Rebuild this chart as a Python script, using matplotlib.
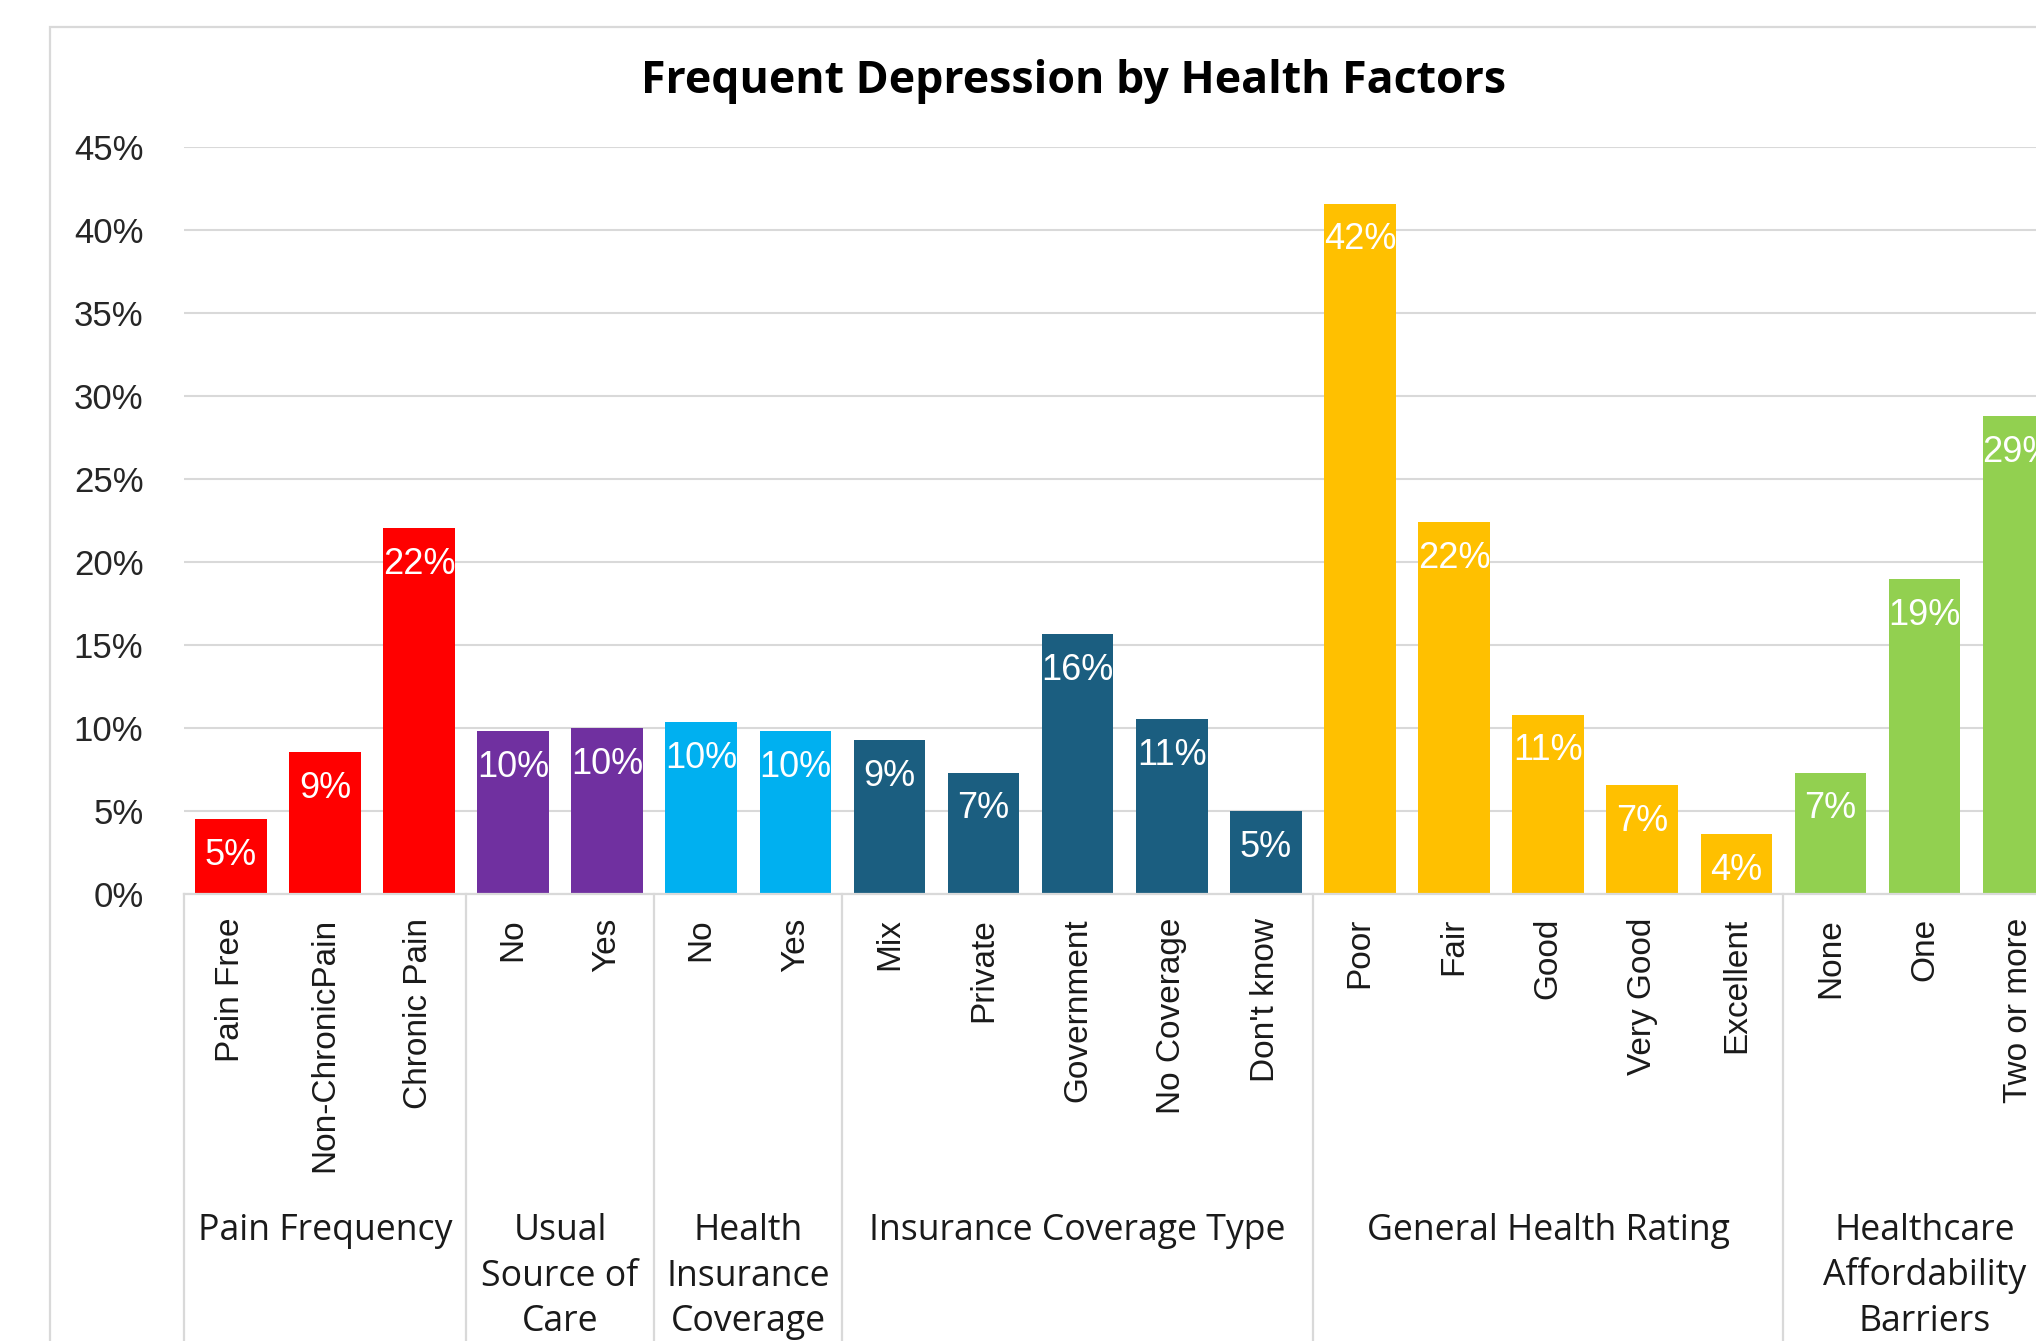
import matplotlib
matplotlib.use("Agg")
import matplotlib.pyplot as plt
from matplotlib.patches import Rectangle
from matplotlib.ticker import FuncFormatter, MultipleLocator
import matplotlib.transforms as mtransforms

# ---- data -------------------------------------------------------------
groups = [
    "Pain Frequency",
    "Usual\nSource of\nCare",
    "Health\nInsurance\nCoverage",
    "Insurance Coverage Type",
    "General Health Rating",
    "Healthcare\nAffordability\nBarriers",
]
group_sizes = [3, 2, 2, 5, 5, 3]
categories = [
    "Pain Free", "Non-ChronicPain", "Chronic Pain",
    "No", "Yes",
    "No", "Yes",
    "Mix", "Private", "Government", "No Coverage", "Don't know",
    "Poor", "Fair", "Good", "Very Good", "Excellent",
    "None", "One", "Two or more",
]
values = [
    4.52, 8.57, 22.07,
    9.84, 10.0,
    10.38, 9.84,
    9.3, 7.33, 15.66, 10.55, 5.0,
    41.6, 22.4, 10.82, 6.57, 3.61,
    7.33, 18.98, 28.8,
]
group_colors = ["#FF0000", "#7030A0", "#00B0F0", "#1B5E80", "#FFC000", "#92D050"]
title = "Frequent Depression by Health Factors"

# ---- figure -----------------------------------------------------------
W, H, DPI = 2036, 1341, 100
fig = plt.figure(figsize=(W / DPI, H / DPI), dpi=DPI)
fig.patch.set_facecolor("white")

# chart frame
fig.add_artist(Rectangle((50 / W, -0.1), 1.2, 1.1 - 26.7 / H,
                         transform=fig.transFigure, fill=False,
                         edgecolor="#D9D9D9", linewidth=1.6, clip_on=False))

left_px, right_px = 183.7, 183.7 + 20 * 94.1
top_px, bottom_px = 147.3, 894.3
ax = fig.add_axes([left_px / W, 1 - bottom_px / H,
                   (right_px - left_px) / W, (bottom_px - top_px) / H])
ax.set_facecolor("none")

colors = []
for c, n in zip(group_colors, group_sizes):
    colors += [c] * n

x = list(range(len(categories)))
bars = ax.bar(x, values, width=0.76, color=colors, zorder=3)

ax.set_xlim(-0.5, len(categories) - 0.5)
ax.set_ylim(0, 45)
ax.yaxis.set_major_locator(MultipleLocator(5))
ax.yaxis.set_major_formatter(FuncFormatter(lambda v, p: f"{v:.0f}%"))
ax.grid(axis="y", color="#D9D9D9", linewidth=1.5, zorder=0)
ax.set_axisbelow(True)
for s in ["top", "right", "left"]:
    ax.spines[s].set_visible(False)
ax.spines["bottom"].set_color("#D9D9D9")
ax.spines["bottom"].set_linewidth(1.6)
ax.spines["bottom"].set_zorder(4)

ax.tick_params(axis="y", length=0, pad=29, labelsize=25, labelcolor="#262626")
for lab in ax.get_yticklabels():
    lab.set_fontfamily("Liberation Sans")

ax.set_xticks(x)
ax.set_xticklabels(categories, rotation=90, fontsize=24, color="#1A1A1A",
                   fontfamily="Liberation Sans", va="top", ha="center")
ax.tick_params(axis="x", length=0, pad=17)

# value labels inside bar tops
for rect, v in zip(bars, values):
    ax.annotate(f"{v:.0f}%", (rect.get_x() + rect.get_width() / 2, v),
                xytext=(0, -26), textcoords="offset points",
                ha="center", va="center", color="white", fontsize=26,
                fontfamily="Liberation Sans", zorder=5, clip_on=False)

# group separators and group names
trans = mtransforms.blended_transform_factory(ax.transData, ax.transAxes)
start = 0
px_per_axes = (bottom_px - top_px)
bounds = [-0.5]
for name, n in zip(groups, group_sizes):
    center = start + (n - 1) / 2
    for i, line in enumerate(name.split("\n")):
        base_px = 1240 + i * 45.5
        y_ax = -(base_px - bottom_px) / px_per_axes
        ax.text(center, y_ax, line, transform=trans, ha="center", va="baseline",
                fontsize=25.7, fontfamily="Open Sans", color="#1A1A1A", clip_on=False)
    start += n
    bounds.append(start - 0.5)
for b in bounds:
    ax.plot([b, b], [0, -1.0], transform=trans, color="#D9D9D9",
            linewidth=1.6, clip_on=False, zorder=1)

fig.text(1074 / W, 1 - 93 / H, title, ha="center", va="baseline",
         fontsize=32.2, fontweight="bold", fontfamily="Open Sans", color="black")

fig.savefig("out.png", dpi=DPI)
